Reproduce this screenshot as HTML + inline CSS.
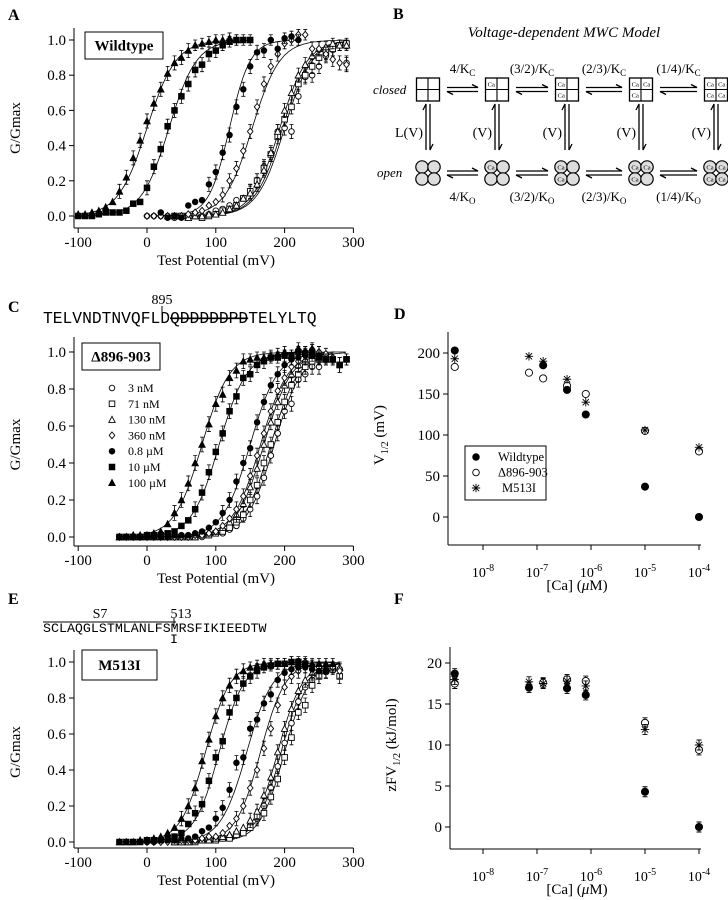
<!DOCTYPE html>
<html><head><meta charset="utf-8"><style>
html,body{margin:0;padding:0;background:#fff;}
svg{display:block;font-family:"Liberation Serif",serif;}
.mono{font-family:"Liberation Mono",monospace;}
</style></head><body>
<svg id="fig" width="728" height="900" viewBox="0 0 728 900" xmlns="http://www.w3.org/2000/svg">
<g font-weight="bold" font-size="16">
<text x="8" y="20">A</text>
<text x="393" y="19">B</text>
<text x="8" y="312">C</text>
<text x="394" y="319">D</text>
<text x="8" y="604">E</text>
<text x="394" y="604">F</text>
</g>
<g id="panelB"></g>
<g id="seqC">
<text x="162" y="304" font-size="14" text-anchor="middle">895</text>
<line x1="162" y1="306" x2="162" y2="312" stroke="#000" stroke-width="1"/>
<text class="mono" x="43" y="323" font-size="16.3">TELVNDTNVQFLD<tspan text-decoration="line-through">QDDDDDPD</tspan>TELYLTQ</text>
<line x1="170" y1="318" x2="248" y2="318" stroke="#000" stroke-width="1"/>
</g>
<g id="seqE">
<line x1="43" y1="622" x2="176" y2="622" stroke="#000" stroke-width="1"/>
<text x="100" y="618" font-size="14" text-anchor="middle">S7</text>
<text x="181" y="618" font-size="14" text-anchor="middle">513</text>
<line x1="174" y1="618" x2="174" y2="626" stroke="#000" stroke-width="1"/>
<text class="mono" x="43" y="632" font-size="13.3">SCLAQGLSTMLANLFSMRSFIKIEEDTW</text>
<text class="mono" x="174" y="643" font-size="13.3" text-anchor="middle">I</text>
</g>
</svg>
<script>
// ---------- DATA ----------
const seriesNames = ["3 nM","71 nM","130 nM","360 nM","0.8 µM","10 µM","100 µM"];
const seriesMarkers = ["ocircle","osquare","otri","odiamond","fcircle","fsquare","ftri"];
// Panel A (wildtype): start voltage (mV), 10 mV steps
const aStart = [0,40,30,0,20,-100,-100];
const aVals = [
 [0,0,0,0,-0.01,0,0,0,0,0.01,0.03,0.04,0.06,0.09,0.1,0.14,0.2,0.28,0.35,0.48,0.5,0.48,0.68,0.79,0.8,0.85,0.91,0.95,0.97,0.87],
 [0,0,0,0,-0.01,0,0.01,0.03,0.04,0.06,0.1,0.14,0.2,0.27,0.35,0.45,0.55,0.62,0.75,0.8,0.85,0.9,0.93,0.95,0.97,0.98],
 [0,0,0,-0.01,0,0,0.01,0.01,0.02,0.04,0.06,0.1,0.13,0.18,0.26,0.36,0.48,0.6,0.7,0.8,0.86,0.91,0.95,0.96,0.98,0.97,0.97],
 [0,0,0,0,0,0,0.01,0.02,0.03,0.06,0.08,0.12,0.2,0.27,0.37,0.48,0.62,0.75,0.85,0.92,0.98,1.0,1.03,1.03,0.95,0.95,0.92,0.89,0.87,0.86],
 [0.02,-0.01,0,-0.01,0.06,0.08,0.09,0.18,0.25,0.36,0.46,0.62,0.72,0.85,0.93,0.94,1.0,0.95,1.01,1.02,1.0],
 [0,0,0,0.01,0.02,0.02,0.02,0.03,0.07,0.08,0.16,0.28,0.38,0.51,0.6,0.68,0.75,0.83,0.86,0.92,0.94,0.97,0.99,1.0,1.0,1.0],
 [0.01,0.01,0.02,0.03,0.05,0.08,0.14,0.22,0.33,0.43,0.54,0.64,0.72,0.81,0.87,0.9,0.94,0.97,0.98,0.99,1.0,1.0,1.01,1.0]
];
const aVhalf = [200,197,193,153,120,32,0];
const aSlope = [20,20,20,20,15,20,21];
// Panel C (Δ896-903)
const cStart = [-40,-40,-40,-40,-40,-40,-40];
const cVals = [
 [0,0,0,0,0,0,0,0,0,0,0,0,0,0.01,0.02,0.02,0.04,0.06,0.1,0.15,0.22,0.32,0.44,0.56,0.68,0.72,0.85,0.88,0.92,0.92],
 [0,0,0,0,0,0,0,0,0,0,0,0,0.01,0.01,0.02,0.03,0.05,0.08,0.12,0.2,0.28,0.4,0.5,0.62,0.73,0.82,0.88,0.92,0.95,0.96,0.97,0.96,0.93,0.96],
 [0,0,0,0,0,0,0,0,0,0,0,0,0.01,0.02,0.03,0.05,0.08,0.12,0.18,0.27,0.37,0.5,0.62,0.73,0.82,0.88,0.93,0.96,1.02,1.0,0.96],
 [0,0,0,0,0,0,0,0,0,0,0,0.01,0.01,0.02,0.03,0.06,0.1,0.15,0.22,0.33,0.44,0.56,0.68,0.79,0.86,0.92,0.95,0.98,1.01,1.0,0.99,0.97],
 [0,0,0,0,0,0,0,0,0.01,0.01,0.01,0.02,0.03,0.05,0.08,0.13,0.2,0.3,0.4,0.48,0.62,0.73,0.82,0.88,0.93,0.96,0.97,1.0,1.01,0.98,0.96],
 [0,0,0,0,0.01,0.01,0.01,0.02,0.03,0.06,0.09,0.15,0.24,0.35,0.46,0.56,0.68,0.76,0.86,0.88,0.93,0.95,0.97,0.97,0.98,0.98,1.0,0.99,0.98,0.97,0.96,0.96,0.93,0.96],
 [0,0,0.01,0.01,0.01,0.02,0.03,0.07,0.13,0.2,0.29,0.4,0.5,0.61,0.72,0.77,0.86,0.9,0.95,0.96,0.97,0.97,0.98,0.99,1.0,0.98,1.02,1.0]
];
const cVhalf = [185,180,170,165,150,105,80];
const cSlope = [20,20,20,20,20,20,20];
// Panel E (M513I)
const eStart = [40,40,40,0,0,-40,-40];
const eVals = [
 [0,0,0,0,0.01,0.01,0.01,0.02,0.03,0.04,0.06,0.09,0.13,0.2,0.3,0.42,0.55,0.66,0.78,0.86,0.9,0.92,0.95,0.97,0.96],
 [0,0,0,0,0.01,0.01,0.01,0.02,0.02,0.04,0.05,0.08,0.14,0.16,0.25,0.35,0.47,0.58,0.72,0.76,0.87,0.92,0.95,0.96,0.92],
 [0,0,0,0.01,0.01,0.01,0.02,0.03,0.04,0.06,0.08,0.12,0.17,0.26,0.36,0.5,0.63,0.74,0.84,0.9,0.94,0.95,0.96,0.97,0.97],
 [0,0,0,0,0.01,0.01,0.01,0.01,0.02,0.03,0.03,0.05,0.09,0.13,0.2,0.3,0.4,0.52,0.63,0.76,0.86,0.92,0.95,1.0,0.98,0.97,0.95,0.97,0.95],
 [0,0,0.01,0.01,0.01,0.02,0.02,0.03,0.06,0.08,0.13,0.19,0.29,0.44,0.47,0.63,0.68,0.77,0.82,0.9,0.94,0.96,0.97,0.97,0.96,0.95,0.95],
 [0,0,0,0,0.01,0.01,0.01,0.02,0.03,0.05,0.1,0.16,0.21,0.34,0.47,0.56,0.72,0.8,0.88,0.92,0.95,0.97,0.98,0.99,0.99,1.0,1.0,0.99],
 [0,0,0,0.01,0.01,0.02,0.03,0.05,0.08,0.13,0.2,0.3,0.45,0.57,0.7,0.8,0.87,0.92,0.95,0.97,0.98,0.99,0.99,0.99,0.99,1.0,0.99,0.99,0.99,0.99,0.99,0.99]
];
const eVhalf = [195,200,190,165,145,105,85];
const eSlope = [18,18,18,18,19,18,18];
// Panels D/F
const caConc = [3e-9,7.1e-8,1.3e-7,3.6e-7,8e-7,1e-5,1e-4];
const dWT = [203,null,185,155,125,37,0];
const dDel = [183,176,169,160,150,105,80];
const dM513 = [193,196,190,168,140,106,85];
const fWT = [18.7,17,null,16.9,16.1,4.3,0];
const fDel = [17.5,null,17.6,18,17.8,12.7,9.4];
const fM513 = [18,17.7,17.5,17.8,17.2,11.9,10];
const gTicks = [0,0.2,0.4,0.6,0.8,1.0];
const vTicks = [-100,0,100,200,300];
const dTicks = [0,50,100,150,200];
const fTicks = [0,5,10,15,20];
const decTicks = [-8,-7,-6,-5,-4];

// ---------- HELPERS ----------
const NS="http://www.w3.org/2000/svg";
const svg=document.getElementById('fig');
function mk(tag,attrs,parent){const e=document.createElementNS(NS,tag);for(const k in attrs)e.setAttribute(k,attrs[k]);(parent||svg).appendChild(e);return e;}
function txt(x,y,s,size,parent,anchor){const t=mk('text',{x:x,y:y,'font-size':size,'text-anchor':anchor||'middle'},parent);t.textContent=s;return t;}
function marker(g,type,x,y){
  let e;const r=2.8;
  if(type==='star'){
    const s=4.2;
    return mk('path',{d:`M${x-s},${y}H${x+s}M${x},${y-s}V${y+s}M${x-s*0.75},${y-s*0.75}L${x+s*0.75},${y+s*0.75}M${x-s*0.75},${y+s*0.75}L${x+s*0.75},${y-s*0.75}`,stroke:'#000','stroke-width':0.9,fill:'none'},g);
  }
  const fill=type[0]==='f'?'#000':'#fff';
  const base={fill:fill,stroke:'#000','stroke-width':0.9};
  const t=type.slice(1);
  if(t==='circle'){e=mk('circle',Object.assign({cx:x,cy:y,r:r},base),g);}
  else if(t==='square'){e=mk('rect',Object.assign({x:x-r,y:y-r,width:2*r,height:2*r},base),g);}
  else if(t==='tri'){e=mk('polygon',Object.assign({points:`${x},${y-r-0.5} ${x+r+0.4},${y+r} ${x-r-0.4},${y+r}`},base),g);}
  else {e=mk('polygon',Object.assign({points:`${x},${y-r-0.6} ${x+r},${y} ${x},${y+r+0.6} ${x-r},${y}`},base),g);}
  return e;
}
function gvPanel(id,o){
  const g=mk('g',{});
  
  
  const xs=v=>147+v*0.688;
  const ys=v=>o.y0-v*(o.y0-o.y1);
  mk('line',{x1:74,y1:o.top,x2:74,y2:o.axisY,stroke:'#000','stroke-width':1},g);
  mk('line',{x1:74,y1:o.axisY,x2:xs(300),y2:o.axisY,stroke:'#000','stroke-width':1},g);
  vTicks.forEach(v=>{mk('line',{x1:xs(v),y1:o.axisY,x2:xs(v),y2:o.axisY+5,stroke:'#000'},g);
    const t=txt(xs(v),o.axisY+19,String(v),15,g);
    
    });
  gTicks.forEach(v=>{mk('line',{x1:69,y1:ys(v),x2:74,y2:ys(v),stroke:'#000'},g);
    const t=txt(66,ys(v)+5,v.toFixed(1),15,g,'end');
    
    });
  const xt=txt(216,o.axisY+37,'Test Potential (mV)',15,g);
  
  
  const yt=txt(0,0,'G/Gmax',15,g);
  yt.setAttribute('transform',`translate(20,${(o.y0+o.y1)/2}) rotate(-90)`);
  
  
  const b=mk('rect',{x:o.box[0],y:o.box[1],width:o.box[2],height:o.box[3],fill:'#fff',stroke:'#000','stroke-width':1},g);
  
  
  const bt=txt(o.box[0]+o.box[2]/2,o.box[1]+o.box[3]/2+5,o.label,15,g);
  bt.setAttribute('font-weight','bold');
  
  
  o.vh.forEach((vh,i)=>{
    let d='';
    const vmin=Math.max(-100,o.start[i]-5), vmax=Math.min(300,o.start[i]+(o.vals[i].length-1)*10);
    for(let v=vmin;v<=vmax;v+=2){const gv=1/(1+Math.exp(-(v-vh)/o.k[i]));d+=(d?'L':'M')+xs(v).toFixed(1)+','+ys(gv).toFixed(1);}
    const p=mk('path',{d:d,fill:'none',stroke:'#000','stroke-width':0.8},g);
    
    
  });
  o.vals.forEach((arr,i)=>{
    const sg=mk('g',{},g);
    
    
    arr.forEach((val,j)=>{
      const v=o.start[i]+j*10;const x=xs(v),y=ys(val);
      if(val>0.1){const e=(val>0.95?0.03:0.04)*(o.y0-o.y1);
        mk('path',{d:`M${x},${y-e}V${y+e}M${x-2},${y-e}H${x+2}M${x-2},${y+e}H${x+2}`,stroke:'#000','stroke-width':0.8,fill:'none'},sg);}
      const m=marker(sg,seriesMarkers[i],x,y);
      
      
    });
  });
  return g;
}
gvPanel('panel-a',{y0:216,y1:40,top:28,axisY:228,start:aStart,vals:aVals,vh:aVhalf,k:aSlope,box:[85,32,78,27],label:'Wildtype'});
gvPanel('panel-c',{y0:537,y1:352,top:337,axisY:546,start:cStart,vals:cVals,vh:cVhalf,k:cSlope,box:[82,343,78,27],label:'Δ896-903'});
gvPanel('panel-e',{y0:842,y1:662,top:650,axisY:848,start:eStart,vals:eVals,vh:eVhalf,k:eSlope,box:[82,650,75,30],label:'M513I'});
const lg=mk('g',{});


seriesNames.forEach((n,i)=>{const y=388+i*15.8;
  const m=marker(lg,seriesMarkers[i],112,y);
  
  
  const t=txt(128,y+4,n,12,lg,'start');
  
  });

// ---------- D / F ----------
function caPanel(id,o){
  const g=mk('g',{});
  
  
  const xs=c=>o.x8+(Math.log10(c)+8)*54;
  const ys=v=>o.yz-v*o.sc;
  mk('line',{x1:o.ax,y1:o.top,x2:o.ax,y2:o.axisY,stroke:'#000'},g);
  mk('line',{x1:o.ax,y1:o.axisY,x2:o.x8+4*54+2,y2:o.axisY,stroke:'#000'},g);
  decTicks.forEach(d=>{const x=o.x8+(d+8)*54;mk('line',{x1:x,y1:o.axisY,x2:x,y2:o.axisY+5,stroke:'#000'},g);
    const t=mk('text',{x:x,y:o.axisY+32,'font-size':14,'text-anchor':'middle'},g);
    
    
    t.innerHTML=`10<tspan dy="-6" font-size="10">${d}</tspan>`;});
  o.ticks.forEach(v=>{mk('line',{x1:o.ax-5,y1:ys(v),x2:o.ax,y2:ys(v),stroke:'#000'},g);
    const t=txt(o.ax-8,ys(v)+5,String(v),15,g,'end');
    
    });
  const xt=mk('text',{x:577,y:o.axisY+45,'font-size':15,'text-anchor':'middle'},g);
  xt.innerHTML='[Ca] (<tspan font-style="italic">μ</tspan>M)';
  
  
  const yt=mk('text',{'font-size':15,'text-anchor':'middle',transform:`translate(${o.ytx},${o.yz-o.sc*o.ticks[2]}) rotate(-90)`},g);
  yt.innerHTML=o.ytitle;
  
  
  const sets=[[o.del,'ocircle','delta-896-903'],[o.m,'star','m513i'],[o.wt,'fcircle','wildtype']];
  sets.forEach(([arr,mt,nm])=>{
    const sg=mk('g',{},g);
    
    
    arr.forEach((v,i)=>{if(v===null)return;const x=xs(caConc[i]),y=ys(v);
      if(o.err){const e=o.err;mk('path',{d:`M${x},${y-e}V${y+e}M${x-2.5},${y-e}H${x+2.5}M${x-2.5},${y+e}H${x+2.5}`,stroke:'#000','stroke-width':0.9,fill:'none'},sg);}
      const m=marker(sg,mt,x,y);
      if(mt!=='star'){m.setAttribute('r',3.6);}
      
      });
  });
  return g;
}
caPanel('panel-d',{ax:448,x8:483,yz:517,sc:0.82,top:332,axisY:545,ticks:dTicks,wt:dWT,del:dDel,m:dM513,ytx:384,err:0,
  ytitle:'V<tspan font-size="10" dy="4">1/2</tspan><tspan dy="-4"> (mV)</tspan>'});
caPanel('panel-f',{ax:450,x8:483,yz:827,sc:8.2,top:647,axisY:849,ticks:fTicks,wt:fWT,del:fDel,m:fM513,ytx:396,err:5,
  ytitle:'zFV<tspan font-size="10" dy="4">1/2</tspan><tspan dy="-4">    (kJ/mol)</tspan>'});
const dl=mk('g',{});


mk('rect',{x:465,y:446,width:81,height:54,fill:'#fff',stroke:'#000','stroke-width':1},dl);
[['fcircle','Wildtype'],['ocircle','Δ896-903'],['star','M513I']].forEach(([m,n],i)=>{
  const y=457+i*15.5;const mm=marker(dl,m,476,y);if(m!=='star')mm.setAttribute('r',3.3);
  
  
  const t=txt(i===2?502:498,y+4,n,12.5,dl,'start');
  
  });

// ---------- Panel B ----------
const B=document.getElementById('panelB');
const bx=[428,497,567,641,716];
const topLbl=['4/K','(3/2)/K','(2/3)/K','(1/4)/K'];
const t0=mk('text',{x:564,y:37,'font-size':15,'font-style':'italic','text-anchor':'middle'},B);
t0.textContent='Voltage-dependent MWC Model';


const cl=txt(373,94,'closed',13,B,'start');cl.setAttribute('font-style','italic');


const op=txt(377,177,'open',13,B,'start');op.setAttribute('font-style','italic');


const qpos=[[-1,-1],[1,-1],[-1,1],[1,1]];
const caOrder=[[],[0],[0,2],[0,1,2],[0,1,2,3]];
bx.forEach((x,i)=>{
  const s=mk('g',{},B);
  
  
  mk('rect',{x:x-11.5,y:78,width:23,height:23,fill:'#fff',stroke:'#000','stroke-width':1.3},s);
  mk('path',{d:`M${x},78V101M${x-11.5},89.5H${x+11.5}`,stroke:'#000','stroke-width':1.1},s);
  caOrder[i].forEach(q=>{txt(x+qpos[q][0]*5.7,89.5+qpos[q][1]*5.7+2.5,'Ca',6.5,s);});
  const o=mk('g',{},B);
  
  
  qpos.forEach((p,q)=>{mk('circle',{cx:x+p[0]*6,cy:173+p[1]*6,r:6.2,fill:'#ddd',stroke:'#000','stroke-width':1.2},o);
    if(caOrder[i].includes(q))txt(x+p[0]*6,173+p[1]*6+2.3,'Ca',6.5,o);});
  mk('path',{d:`M${x-2},150V104l-3,6M${x+2},104V150l3,-6`,stroke:'#000','stroke-width':1.3,fill:'none'},B);
  const vl=mk('text',{x:x-5,y:137,'font-size':14,'text-anchor':'end'},B);
  vl.textContent=i===0?'L(V)':'(V)';
  
  
  if(i<4){
    const ax0=x+19,ax1=bx[i+1]-19;
    [89.5,173].forEach(yc=>{mk('path',{d:`M${ax0},${yc-2}H${ax1}l-6,-3M${ax1},${yc+2}H${ax0}l6,3`,stroke:'#000','stroke-width':1.3,fill:'none'},B);});
    const m=(ax0+ax1)/2;
    const tl=mk('text',{x:m,y:73,'font-size':13,'text-anchor':'middle'},B);
    tl.innerHTML=topLbl[i]+'<tspan font-size="9" dy="3">C</tspan>';
    
    
    const bl=mk('text',{x:m,y:201,'font-size':13,'text-anchor':'middle'},B);
    bl.innerHTML=topLbl[i]+'<tspan font-size="9" dy="3">O</tspan>';
    
    
  }
});
</script>
</body></html>
